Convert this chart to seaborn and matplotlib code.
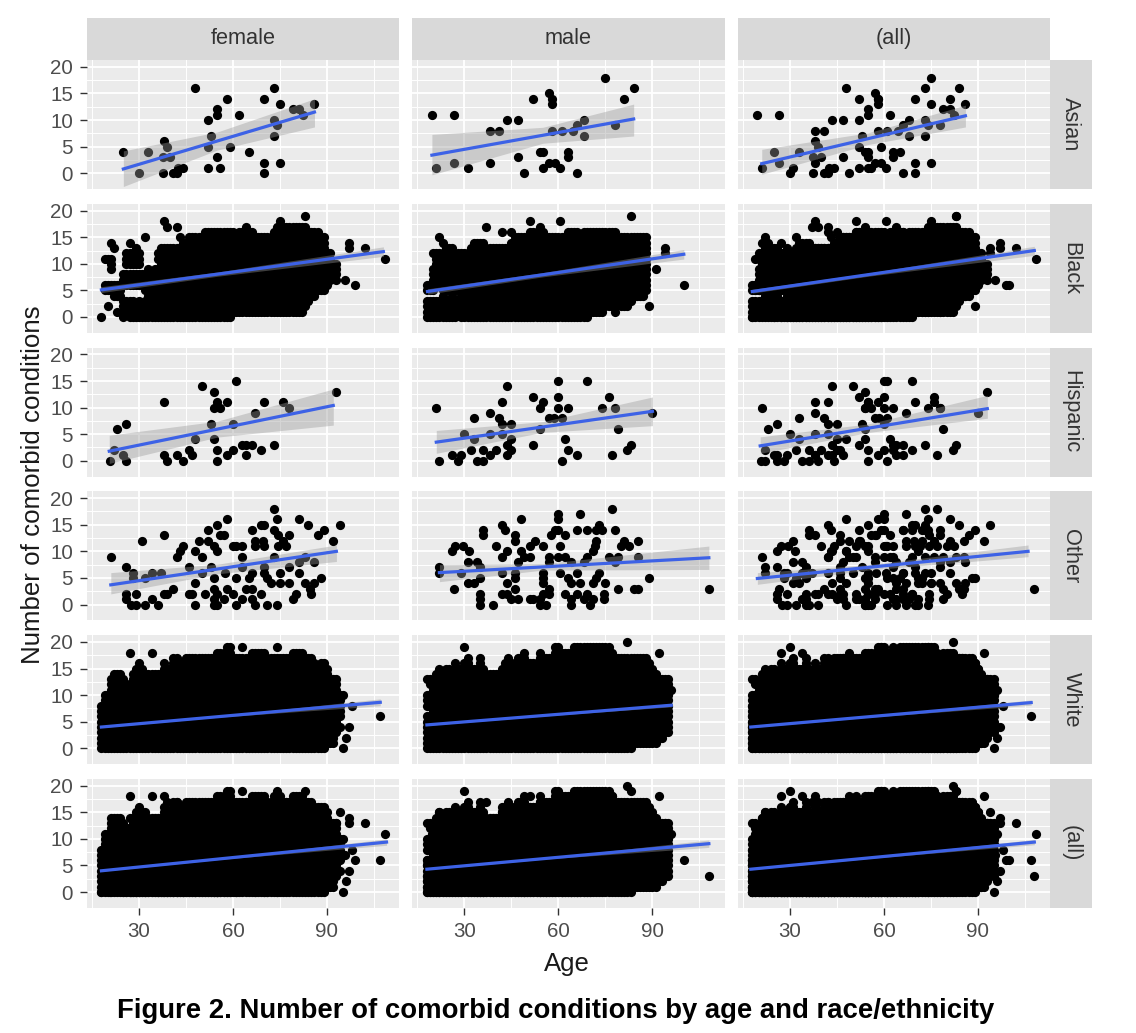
import numpy as np
import pandas as pd
import seaborn as sns
import matplotlib.pyplot as plt
from matplotlib.patches import Rectangle

races = ['Asian', 'Black', 'Hispanic', 'Other', 'White', '(all)']
sexes = ['female', 'male', '(all)']

# sparse panels, points read one by one
asian_f_age = [25, 30, 33, 37.5, 38, 37.5, 39, 40, 41, 42, 42.5, 44, 48, 52, 52, 52, 53, 55, 55, 55, 56, 58, 59, 62, 65, 70, 70, 70, 73, 73, 73, 74, 75, 75, 79, 81, 82.5, 86]
asian_f_n = [4, 0, 4, 0, 6, 3, 5, 3, 0, 0, 1, 1, 16, 1, 5, 10, 7, 3, 11, 12, 1, 14, 5, 11, 4, 0, 2, 14, 16, 10, 7, 9, 13, 2, 12, 12, 11, 13]
asian_m_age = [19.6, 26.5, 21, 26.5, 31, 38, 38, 41, 43.5, 47, 47, 49, 52, 54, 55, 55, 57, 58, 58, 57, 59, 60.5, 58, 61, 63, 63, 64.5, 66, 66, 68, 68, 75, 78, 81, 84]
asian_m_n = [11, 11, 1, 2, 1, 2, 8, 8, 10, 10, 3, 0, 14, 4, 4, 1, 15, 14, 13, 2, 2, 1, 8, 8, 4, 3, 8, 0, 9, 10, 7, 18, 9, 14, 16]
hisp_f_age = [20.6, 22, 23, 26, 25, 26, 38, 38, 39, 42, 44, 46, 47, 48, 50, 53, 54, 54, 54, 55, 56, 58, 55, 55, 58, 60, 60, 61, 63, 64, 64, 66, 67, 69, 70, 73, 76, 78, 93]
hisp_f_n = [0, 2, 6, 7, 1, 0, 11, 1, 0, 1, 0, 2, 1, 4, 14, 7, 13, 10, 4, 11, 10, 11, 2, 0, 1, 2, 7, 15, 3, 1, 3, 3, 9, 2, 11, 3, 11, 10, 13]
hisp_m_age = [21, 22, 26, 28, 30, 29, 32, 33, 33, 34, 36, 36, 38, 38, 38, 40, 41, 42, 42, 42, 43.5, 45, 43.5, 43.5, 45, 45, 52, 52, 54, 55, 54, 57, 58.5, 60, 60, 60, 63, 61, 61, 62, 63, 66, 69, 74, 76, 78, 79, 77, 82, 83, 90]
hisp_m_n = [10, 0, 1, 0, 5, 1, 2, 8, 4, 0, 0, 2, 9, 1, 5, 2, 8, 11, 5, 7, 14, 7, 3, 1, 2, 4, 12, 3, 10, 11, 6, 8, 8, 15, 12, 10, 10, 8, 0, 4, 2, 1, 15, 10, 12, 10, 6, 1, 2, 3, 9]
other_f_age = [21, 26, 26, 26, 27.5, 29, 29, 28, 28, 31, 32, 32, 34, 34, 36, 37, 38, 38, 39, 41, 42, 43, 44, 46, 46, 47, 48, 48, 48, 49, 50, 50, 51, 52, 52, 54, 55, 53, 54, 54, 54, 54, 55, 55, 55, 56, 57, 58, 57, 57.5, 58, 60, 60, 61, 61, 61, 63, 63, 63, 63, 64, 66, 66, 67, 66, 67, 67, 66, 65, 69, 69, 70, 69.5, 70, 70, 70, 71, 72, 71, 73, 73, 74, 73, 74, 74.5, 74.5, 75, 75, 76, 77, 78, 78, 78, 79, 80, 81, 81, 81, 83, 84, 83, 85, 84.5, 86, 86, 87, 89, 88, 92, 94]
other_f_n = [9, 7, 2, 1, 0, 2, 0, 5, 6, 12, 0, 5, 6, 1, 0, 6, 13, 2, 2, 3, 9, 10, 11, 7, 2, 2, 0, 4, 10, 12, 9, 6, 2, 14, 12, 11, 10, 7, 5, 3, 1, 0, 15, 0, 2, 13, 13, 16, 1, 6, 3, 2, 11, 5, 0, 11, 11, 9, 7, 1, 3, 3, 1, 0, 14, 12, 11, 6, 5, 2, 15, 15, 12, 11, 7, 6, 5, 4, 0, 9, 18, 16, 14, 0, 13, 11, 6, 4, 12, 11, 13, 4, 7, 1, 2, 16, 6, 8, 9, 15, 4, 2, 3, 8, 4, 13, 14, 5, 12, 15]
other_m_age = [22, 22, 26.5, 26, 27, 29.5, 31.5, 29, 31, 31, 34, 33, 35, 35, 36, 36, 35, 35, 35, 39, 40, 42, 43, 42, 43.5, 42, 42, 43.5, 43.5, 45, 46, 46, 48, 48, 47, 46, 46, 46, 47, 49, 51, 51, 52.5, 55, 57, 57, 55, 55, 55, 55, 54, 54, 52, 51, 56, 57, 57, 57.5, 59, 60, 60, 60, 62, 60.5, 60, 62, 60.5, 63, 64, 62, 64, 64, 66, 67, 69, 64, 66, 67, 66, 68, 70, 71, 69, 71, 72, 73, 74, 71.5, 71, 72, 69, 68, 73, 72, 75, 74.5, 74.5, 77, 78, 76, 79, 78, 79, 80, 81, 82.5, 84, 85.5, 85.5, 85.5, 89, 108]
other_m_n = [7, 6, 3, 10, 11, 11, 10, 6, 8, 4, 8, 4, 5, 7, 14, 13, 2, 1, 0, 0, 11, 15, 14, 9, 10, 2, 6, 4, 2, 1, 13, 12, 16, 10, 8, 6, 5, 3, 1, 9, 9, 11, 12, 11, 9, 8, 6, 5, 4, 2, 0, 1, 1, 1, 0, 2, 3, 13, 14, 17, 16, 14, 13, 11, 9, 9, 6, 5, 4, 2, 0, 1, 14, 17, 14, 8, 6, 4, 2, 1, 0, 1, 2, 4, 14, 15, 14, 11, 10, 12, 9, 8, 6, 5, 4, 2, 1, 18, 14, 9, 9, 8, 3, 11, 12, 11, 3, 3, 12, 9, 5, 3]

# dense panels, filled stretches of counts for each age: age, lowest, highest
black_f_age = [18, 19, 19, 20, 20, 20, 21, 21, 21, 22, 22, 23, 23, 24, 25, 25, 26, 26, 26, 27, 27, 27, 27, 28, 28, 28, 29, 29, 29, 30, 30, 30, 31, 31, 32, 32, 32, 33, 33, 34, 35, 36, 36, 37, 37, 37, 38, 38, 39, 39, 40, 41, 42, 42, 43, 43, 44, 45, 46, 47, 48, 49, 50, 51, 52, 53, 54, 55, 56, 57, 58, 59, 60, 61, 62, 63, 64, 64, 65, 66, 67, 68, 69, 70, 71, 72, 73, 74, 75, 75, 76, 77, 78, 79, 80, 81, 82, 83, 83, 84, 85, 86, 87, 88, 89, 90, 91, 92, 93, 95.6, 99, 97, 102, 108.6]
black_f_lo = [0, 5, 11, 2, 5, 11, 5, 9, 14, 4, 13, 1, 4, 4, 0, 6, 1, 6, 10, 0, 6, 10, 14, 0, 6, 10, 0, 6, 10, 0, 6, 10, 0, 6, 0, 5, 15, 0, 6, 0, 0, 0, 11, 0, 6, 9, 0, 18, 0, 17, 0, 0, 0, 17, 0, 15, 0, 0, 0, 0, 0, 0, 0, 0, 0, 0, 0, 0, 0, 0, 0, 0, 1, 1, 1, 1, 1, 17, 1, 1, 1, 1, 1, 1, 1, 1, 1, 1, 1, 18, 1, 1, 1, 1, 1, 1, 1, 2, 19, 3, 4, 4, 5, 5, 5, 6, 7, 8, 7, 7, 6, 13, 13, 11]
black_f_hi = [0, 6, 11, 2, 6, 11, 6, 11, 14, 6, 13, 1, 6, 6, 3, 8, 3, 8, 12, 3, 8, 12, 14, 3, 8, 12, 2, 8, 13, 3, 8, 12, 2, 8, 3, 8, 15, 4, 9, 8, 9, 9, 12, 4, 8, 13, 13, 18, 13, 17, 13, 13, 13, 17, 13, 15, 14, 14, 15, 15, 15, 15, 15, 16, 16, 16, 16, 16, 16, 16, 16, 16, 16, 15, 16, 16, 16, 17, 16, 16, 15, 15, 15, 15, 15, 15, 16, 17, 17, 18, 17, 17, 17, 17, 17, 17, 17, 17, 19, 16, 16, 16, 16, 15, 15, 12, 12, 10, 10, 7, 6, 14, 13, 11]

black_m_age = [18, 18, 19, 19, 20, 20, 20, 21, 21, 22, 22, 22, 23, 23, 23, 24, 24, 25, 25, 26, 26, 27, 27, 28, 28, 29, 30, 31, 32, 33, 34, 35, 36, 37, 37, 38, 39, 40, 41, 42, 42, 43, 44, 45, 45, 46, 47, 48, 49, 50, 51, 51, 52, 53, 54, 54, 55, 56, 57, 58, 59, 60, 60.5, 61, 62, 63, 64, 65, 66, 67, 68, 69, 70, 71, 72, 73, 74, 75, 76, 77, 78, 78, 80, 81, 82, 83, 83, 84, 85, 86, 87, 88, 89, 91, 94, 100]
black_m_lo = [0, 5, 0, 5, 0, 5, 12, 0, 6, 0, 6, 15, 0, 8, 14, 0, 5, 0, 5, 0, 10, 0, 5, 1, 5, 0, 0, 0, 0, 0, 0, 0, 0, 0, 17, 0, 0, 0, 0, 0, 16, 0, 0, 0, 16, 0, 0, 0, 0, 0, 0, 18, 0, 0, 0, 17, 0, 0, 0, 0, 0, 0, 18, 0, 0, 0, 0, 0, 0, 0, 0, 0, 1, 1, 1, 1, 1, 2, 2, 2, 2, 1, 2, 2, 2, 3, 19, 4, 4, 4, 4, 5, 2, 9, 12, 6]
black_m_hi = [3, 6, 3, 6, 3, 9, 12, 3, 12, 3, 12, 15, 6, 12, 14, 3, 13, 3, 13, 8, 13, 3, 10, 3, 12, 12, 12, 12, 13, 14, 14, 14, 14, 13, 17, 13, 13, 13, 13, 13, 16, 13, 13, 14, 16, 15, 15, 15, 15, 15, 16, 18, 16, 16, 16, 17, 16, 15, 15, 15, 15, 15, 18, 15, 15, 16, 16, 16, 16, 15, 16, 16, 16, 16, 16, 16, 16, 16, 16, 16, 16, 1, 15, 15, 15, 15, 19, 15, 15, 15, 15, 15, 2, 9, 13, 6]

white_f_age = [18, 19, 20, 21, 22, 23, 24, 25, 26, 27, 27, 28, 29, 30, 31, 32, 33, 34, 34, 35, 36, 37, 38, 39, 40, 41, 42, 43, 44, 45, 46, 47, 48, 49, 50, 51, 52, 53, 54, 55, 56, 57, 58, 59, 60, 61, 62, 63, 63, 64, 65, 66, 67, 68, 69, 70, 71, 72, 73, 74, 74, 75, 76, 77, 78, 79, 80, 81, 82, 83, 84, 85, 86, 87, 88, 89, 90, 91, 92, 93, 94, 95, 98, 95, 96, 94, 97, 107]
white_f_lo = [0, 0, 0, 0, 0, 0, 0, 0, 0, 0, 18, 0, 0, 0, 0, 0, 0, 0, 18, 0, 0, 0, 0, 0, 0, 0, 0, 0, 0, 0, 0, 0, 0, 0, 0, 0, 0, 0, 0, 0, 0, 0, 0, 0, 0, 0, 0, 0, 19, 0, 0, 0, 0, 0, 0, 0, 0, 0, 0, 0, 19, 0, 0, 0, 0, 0, 0, 0, 0, 0, 0, 0, 0, 0, 0, 0, 1, 1, 1, 3, 6, 10, 8, 0, 2, 4, 4, 6]
white_f_hi = [8, 10, 10, 13, 14, 14, 14, 13, 12, 12, 18, 14, 15, 16, 15, 14, 14, 14, 18, 14, 14, 14, 16, 15, 15, 17, 17, 16, 16, 17, 17, 17, 17, 17, 17, 17, 17, 17, 17, 18, 18, 18, 19, 19, 17, 17, 17, 17, 19, 17, 17, 18, 18, 18, 18, 18, 17, 17, 17, 17, 19, 17, 17, 17, 17, 18, 18, 18, 18, 17, 17, 17, 16, 15, 16, 16, 15, 13, 13, 13, 10, 10, 8, 0, 2, 4, 4, 6]

white_m_age = [18, 18, 18, 19, 19, 19, 20, 21, 22, 23, 24, 25, 26, 27, 28, 29, 30, 30, 31, 32, 33, 34, 35, 36, 37, 38, 39, 40, 41, 42, 43, 44, 45, 46, 47, 48, 49, 50, 51, 52, 53, 54, 55, 56, 57, 58, 59, 60, 61, 62, 63, 64, 65, 66, 67, 68, 69, 70, 71, 72, 73, 74, 75, 76, 77, 78, 79, 80, 81, 82, 82, 83, 84, 85, 86, 87, 88, 89, 90, 91, 92, 92, 93, 94, 95, 96]
white_m_lo = [0, 8, 13, 0, 8, 12, 0, 0, 0, 0, 0, 0, 0, 0, 0, 0, 0, 19, 0, 0, 0, 0, 0, 0, 0, 0, 0, 0, 0, 0, 0, 0, 0, 0, 0, 0, 0, 0, 0, 0, 0, 0, 0, 0, 0, 0, 0, 0, 0, 0, 0, 0, 0, 0, 0, 0, 0, 0, 0, 0, 0, 0, 0, 0, 0, 0, 0, 0, 0, 0, 20, 0, 1, 1, 1, 1, 1, 1, 1, 1, 2, 18, 2, 3, 3, 11]
white_m_hi = [6, 10, 13, 6, 10, 13, 12, 14, 15, 14, 15, 15, 14, 16, 15, 15, 16, 19, 17, 15, 15, 15, 17, 15, 14, 14, 14, 14, 14, 15, 16, 17, 16, 16, 17, 17, 18, 16, 16, 16, 16, 18, 17, 17, 17, 17, 19, 19, 18, 18, 18, 18, 19, 19, 19, 19, 19, 19, 19, 19, 19, 19, 19, 19, 18, 17, 17, 17, 17, 17, 20, 17, 17, 17, 17, 17, 17, 16, 15, 14, 13, 18, 13, 13, 13, 11]

# fitted lines and bands, one entry per panel, row by row
fit_age0 = [25, 19.6, 21, 18, 18.2, 18, 20.5, 21, 20.5, 21, 22, 19.6, 18, 18, 17.5, 18, 18, 17.5]
fit_age1 = [86, 84, 86, 108, 100, 108, 92, 90, 93, 93, 108, 106, 107, 96, 107, 109, 108, 108]
fit_y0 = [0.8, 3.4, 1.8, 5.1, 4.8, 4.8, 1.8, 3.5, 2.8, 3.7, 6.0, 4.9, 4.0, 4.4, 4.0, 4.0, 4.3, 4.3]
fit_y1 = [11.5, 10.2, 10.8, 12.3, 11.8, 12.5, 10.4, 9.3, 9.8, 10.0, 8.8, 10.0, 8.65, 8.1, 8.6, 9.4, 9.1, 9.4]
band_lo0 = [-2.5, -0.3, -0.2, 4.6, 4.3, 4.5, -0.5, 1.4, 1.4, 2.0, 4.3, 3.8, 3.9, 4.3, 3.9, 3.9, 4.2, 4.2]
band_hi0 = [4.2, 7.3, 4.5, 5.7, 5.3, 5.2, 4.8, 5.7, 4.5, 6.0, 7.5, 6.0, 4.1, 4.5, 4.1, 4.1, 4.4, 4.4]
band_lo1 = [8.7, 7.0, 8.7, 11.4, 10.9, 11.6, 6.7, 6.6, 8.0, 8.1, 6.6, 9.0, 8.0, 7.8, 8.1, 8.8, 8.4, 8.9]
band_hi1 = [14.0, 13.0, 12.8, 13.2, 12.7, 13.3, 13.5, 12.0, 12.3, 11.2, 11.0, 11.2, 9.3, 8.4, 9.1, 10.0, 9.8, 9.9]
band_half_mid = [1.7, 1.5, 1.1, 0.4, 0.4, 0.3, 1.5, 1.0, 0.8, 0.9, 0.6, 0.5, 0.1, 0.1, 0.1, 0.1, 0.1, 0.1]
band_age_mid = 55

x_ticks = [30, 60, 90]
x_minor = [15, 45, 75, 105]
y_ticks = [0, 5, 10, 15, 20]
y_minor = [2.5, 7.5, 12.5, 17.5]


def expand(ages, lows, highs):
    out_age, out_n = [], []
    for a, lo, hi in zip(ages, lows, highs, strict=True):
        for n in range(lo, hi + 1):
            out_age.append(a)
            out_n.append(n)
    return out_age, out_n


parts = []


def add(race, sex, ages, counts):
    parts.append(pd.DataFrame({'race': race, 'sex': sex, 'age': ages, 'n': counts}))


add('Asian', 'female', asian_f_age, asian_f_n)
add('Asian', 'male', asian_m_age, asian_m_n)
add('Black', 'female', *expand(black_f_age, black_f_lo, black_f_hi))
add('Black', 'male', *expand(black_m_age, black_m_lo, black_m_hi))
add('Hispanic', 'female', hisp_f_age, hisp_f_n)
add('Hispanic', 'male', hisp_m_age, hisp_m_n)
add('Other', 'female', other_f_age, other_f_n)
add('Other', 'male', other_m_age, other_m_n)
add('White', 'female', *expand(white_f_age, white_f_lo, white_f_hi))
add('White', 'male', *expand(white_m_age, white_m_lo, white_m_hi))
df = pd.concat(parts, ignore_index=True)

# margins, like facet_grid(margins=TRUE)
df = pd.concat([df, df.assign(sex='(all)')], ignore_index=True)
df = pd.concat([df, df.assign(race='(all)')], ignore_index=True)

plt.rcParams['font.family'] = ['Liberation Sans', 'DejaVu Sans']

g = sns.FacetGrid(df, row='race', col='sex', row_order=races, col_order=sexes,
                  height=1.29, aspect=2.42, sharex=True, sharey=True, despine=False)
g.map_dataframe(sns.scatterplot, x='age', y='n', color='black', s=44, linewidth=0, zorder=2)
g.figure.set_size_inches(11.36, 10.33)
g.figure.subplots_adjust(left=87 / 1136, right=1050 / 1136, top=1 - 60 / 1033,
                         bottom=1 - 908 / 1033, wspace=0.043, hspace=0.113)
g.set_titles('')
g.set_axis_labels('', '')

for i, race in enumerate(races):
    for j, sex in enumerate(sexes):
        ax = g.axes[i, j]
        ax.set_facecolor('#EBEBEB')
        for s in ax.spines.values():
            s.set_visible(False)
        ax.set_xlim(13.4, 113)
        ax.set_ylim(-3, 21.3)
        ax.set_xticks(x_ticks)
        ax.set_yticks(y_ticks)
        ax.set_xticks(x_minor, minor=True)
        ax.set_yticks(y_minor, minor=True)
        ax.set_axisbelow(True)
        ax.grid(which='major', color='white', lw=1.3)
        ax.grid(which='minor', color='white', lw=0.7)
        ax.tick_params(which='minor', length=0)
        ax.tick_params(which='major', length=5, width=1, color='#333333',
                       labelcolor='#4D4D4D', labelsize=14.8, pad=5,
                       left=(j == 0), bottom=(i == 5),
                       labelleft=(j == 0), labelbottom=(i == 5))

        k = i * 3 + j
        a0, a1 = fit_age0[k], fit_age1[k]
        y_mid = fit_y0[k] + (fit_y1[k] - fit_y0[k]) * (band_age_mid - a0) / (a1 - a0)
        ax.fill_between([a0, band_age_mid, a1],
                        [band_lo0[k], y_mid - band_half_mid[k], band_lo1[k]],
                        [band_hi0[k], y_mid + band_half_mid[k], band_hi1[k]],
                        color='#999999', alpha=0.4, lw=0, zorder=3)
        sns.lineplot(x=[a0, a1], y=[fit_y0[k], fit_y1[k]], ax=ax, color='#3D62E6',
                     lw=2.3, errorbar=None, zorder=4)
        ax.set_xlabel('')
        ax.set_ylabel('')

        if i == 0:
            ax.add_patch(Rectangle((0, 1), 1, 42 / 129, transform=ax.transAxes,
                                   color='#D9D9D9', clip_on=False, lw=0))
            ax.text(0.5, 1 + 21 / 129, sex, transform=ax.transAxes, ha='center',
                    va='center', fontsize=15.7, color='#333333')
        if j == 2:
            ax.add_patch(Rectangle((1, 0), 42 / 313, 1, transform=ax.transAxes,
                                   color='#D9D9D9', clip_on=False, lw=0))
            ax.text(1 + 21 / 313, 0.5, race, transform=ax.transAxes, ha='center',
                    va='center', rotation=-90, fontsize=15.7, color='#333333')

fig = g.figure
fig.text(33 / 1136, 1 - 485 / 1033, 'Number of comorbid conditions', rotation=90,
         ha='center', va='center', fontsize=18.6, color='#1A1A1A')
fig.text(567 / 1136, 1 - 964 / 1033, 'Age', ha='center', va='center', fontsize=18.5,
         color='#1A1A1A')
fig.text(556 / 1136, 1 - 1011 / 1033,
         'Figure 2. Number of comorbid conditions by age and race/ethnicity',
         ha='center', va='center', fontsize=19.8, fontweight='bold', color='black')

fig.savefig('out.png', dpi=100)
